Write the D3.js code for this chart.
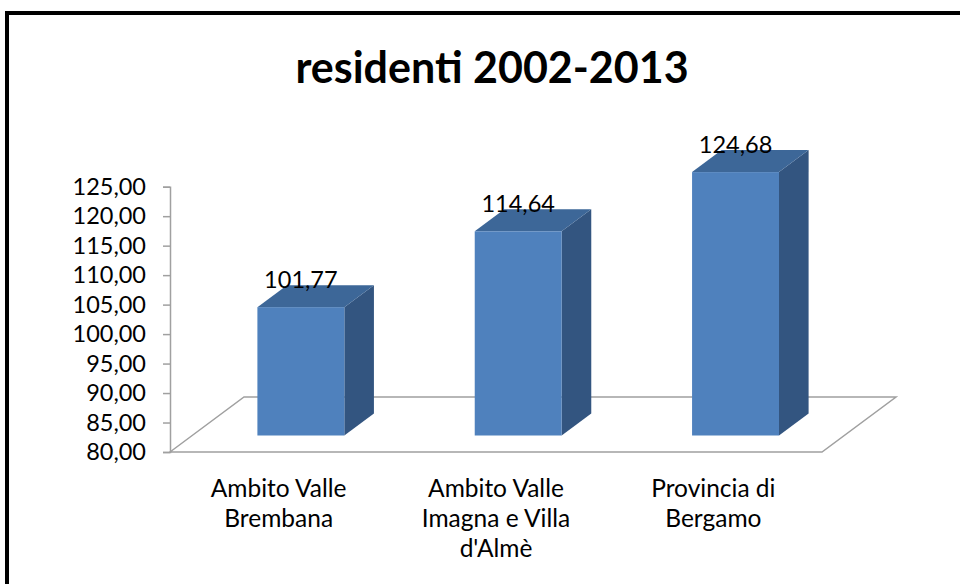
<!DOCTYPE html>
<html>
<head>
<meta charset="utf-8">
<script src="https://cdn.jsdelivr.net/npm/d3@7"></script>
<style>
  body { margin: 0; background: #fff; }
  svg { display: block; font-family: Lato, "Open Sans", sans-serif; }
</style>
</head>
<body>
<div id="chart"></div>
<script>
// data
const categories = ["Ambito Valle Brembana", "Ambito Valle Imagna e Villa d'Almè", "Provincia di Bergamo"];
const values = [101.77, 114.64, 124.68];
const yTicks = [80, 85, 90, 95, 100, 105, 110, 115, 120, 125];
const title = "residenti 2002-2013";

const width = 960, height = 584;

const svg = d3.select("#chart")
    .append("svg")
    .attr("width", width)
    .attr("height", height);

svg.append("rect")
    .attr("width", width)
    .attr("height", height)
    .attr("fill", "white");

// frame (only left and top edges are visible in the picture)
svg.append("rect")
    .attr("x", 7)
    .attr("y", 13)
    .attr("width", 1000)
    .attr("height", 700)
    .attr("fill", "none")
    .attr("stroke", "black")
    .attr("stroke-width", 4);

svg.append("text")
    .attr("x", 492)
    .attr("y", 83)
    .attr("text-anchor", "middle")
    .attr("font-size", 43)
    .attr("font-weight", "bold")
    .text(title);

const itFmt = d3.formatLocale({decimal: ",", thousands: ".", grouping: [3], currency: ["", "€"]}).format(".2f");

const x = d3.scaleBand()
    .domain(categories)
    .range([170, 822]);

const y = d3.scaleLinear()
    .domain([80, 125])
    .range([452, 186.7]);

// depth of the floor and where the bars sit inside it
const depth = {dx: 74, dy: -55};
const barFront = 0.3, barBack = 0.7;
const barW = x.bandwidth() * 0.4;
const lineColor = "#a0a0a0";

// floor
const x0 = x.range()[0], x1 = x.range()[1], yBase = y(80);
svg.append("path")
    .attr("d", d3.line()([
        [x0, yBase], [x0 + depth.dx, yBase + depth.dy],
        [x1 + depth.dx, yBase + depth.dy], [x1, yBase]
    ]) + "Z")
    .attr("fill", "none")
    .attr("stroke", lineColor)
    .attr("stroke-width", 1.5);

// y axis
const yAxis = d3.axisLeft(y)
    .tickValues(yTicks)
    .tickSize(7)
    .tickPadding(17)
    .tickFormat(itFmt);

const gy = svg.append("g")
    .attr("transform", `translate(${x0},0)`)
    .call(yAxis);
gy.select(".domain").attr("stroke", lineColor).attr("stroke-width", 1.5);
gy.selectAll(".tick line").attr("stroke", lineColor).attr("stroke-width", 1.5);
gy.selectAll(".tick text")
    .attr("font-size", 23.5)
    .attr("font-family", "Lato, 'Open Sans', sans-serif")
    .attr("fill", "black");

// bars
const fOff = {dx: depth.dx * barFront, dy: depth.dy * barFront};
const bOff = {dx: depth.dx * (barBack - barFront), dy: depth.dy * (barBack - barFront)};

const bars = svg.append("g")
    .selectAll("g")
    .data(categories.map((c, i) => ({cat: c, value: values[i]})))
    .join("g")
    .attr("transform", d => `translate(${fOff.dx},${fOff.dy})`);

bars.each(function(d) {
    const g = d3.select(this);
    const left = x(d.cat) + (x.bandwidth() - barW) / 2;
    const right = left + barW;
    const top = y(d.value), bot = y(80);
    // side
    g.append("path")
        .attr("d", d3.line()([[right, top], [right + bOff.dx, top + bOff.dy],
            [right + bOff.dx, bot + bOff.dy], [right, bot]]) + "Z")
        .attr("fill", "#335580");
    // top
    g.append("path")
        .attr("d", d3.line()([[left, top], [left + bOff.dx, top + bOff.dy],
            [right + bOff.dx, top + bOff.dy], [right, top]]) + "Z")
        .attr("fill", "#3d6798");
    // front
    g.append("rect")
        .attr("x", left)
        .attr("y", top)
        .attr("width", barW)
        .attr("height", bot - top)
        .attr("fill", "#4f81bd");
    // value label
    g.append("text")
        .attr("x", left + barW / 2)
        .attr("y", top - 19)
        .attr("text-anchor", "middle")
        .attr("font-size", 23.5)
        .text(itFmt(d.value));
});

// category labels, wrapped
const catLabels = svg.append("g")
    .selectAll("text")
    .data(categories)
    .join("text")
    .attr("text-anchor", "middle")
    .attr("font-size", 24.5)
    .attr("x", d => x(d) + x.bandwidth() / 2)
    .attr("y", 497);

catLabels.each(function(d) {
    const t = d3.select(this);
    const words = d.split(" ");
    let line = [];
    let tspan = t.append("tspan").attr("x", t.attr("x")).attr("dy", 0);
    words.forEach(w => {
        line.push(w);
        tspan.text(line.join(" "));
        if (tspan.node().getComputedTextLength() > 175 && line.length > 1) {
            line.pop();
            tspan.text(line.join(" "));
            line = [w];
            tspan = t.append("tspan").attr("x", t.attr("x")).attr("dy", 30).text(w);
        }
    });
});
</script>
</body>
</html>
